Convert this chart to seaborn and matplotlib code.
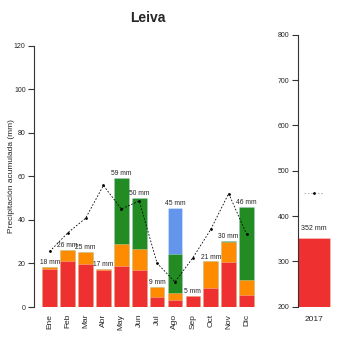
import numpy as np
import pandas as pd
import matplotlib
matplotlib.use("Agg")
import matplotlib.pyplot as plt
import seaborn as sns

months = ["Ene", "Feb", "Mar", "Abr", "May", "Jun", "Jul", "Ago", "Sep", "Oct", "Nov", "Dic"]
red = [17.5, 21.2, 19.9, 17.1, 18.9, 17.2, 4.5, 3.1, 5.1, 8.9, 20.7, 5.5]
orange = [0.9, 5.1, 5.4, 0.3, 9.9, 9.5, 4.9, 3.2, 0.0, 12.0, 9.3, 6.9]
green = [0.0, 0.0, 0.0, 0.0, 30.3, 23.3, 0.0, 18.0, 0.0, 0.0, 0.3, 33.6]
blue = [0.0, 0.0, 0.0, 0.0, 0.0, 0.0, 0.0, 21.0, 0.0, 0.0, 0.0, 0.0]
mean_line = [25.5, 34.0, 40.7, 55.8, 45.0, 48.7, 20.1, 11.5, 22.6, 35.6, 52.1, 33.5]

year_label = ["2017"]
year_total = [352]
year_mean = [450]

sns.set_style("white")
plt.rcParams['font.family'] = ['Liberation Sans', 'DejaVu Sans']

c_red = "#EE3030"
c_orange = "#FF8C00"
c_green = "#228B22"
c_blue = "#6495ED"

fig = plt.figure(figsize=(3.5, 3.5), dpi=100)
ax = fig.add_axes([34/350, 1-307/350, (258-34)/350, (307-45.6)/350])
ax2 = fig.add_axes([298/350, 1-306.7/350, (340-298)/350, (306.7-34.7)/350])

r = np.array(red); o = np.array(orange); g = np.array(green); b = np.array(blue)
layers = [(r + o + g + b, c_blue), (r + o + g, c_green), (r + o, c_orange), (r, c_red)]
for vals, col in layers:
    df = pd.DataFrame({"mes": months, "v": vals})
    sns.barplot(data=df, x="mes", y="v", color=col, saturation=1, width=0.82,
                ax=ax, edgecolor=(1, 1, 1, 0.5), linewidth=0.4)

totals = r + o + g + b
for i, t in enumerate(totals):
    ax.text(i, t + 0.4, f"{int(np.round(t))} mm", ha="center", va="bottom", fontsize=4.8, color="#222222")

dfl = pd.DataFrame({"x": np.arange(12), "y": mean_line})
sns.lineplot(data=dfl, x="x", y="y", ax=ax, color="black", linewidth=0.6,
             linestyle=(0, (2, 2)), marker="o", markersize=2, markeredgewidth=0)

ax.set_xlim(-0.88, 11.64)
ax.set_ylim(0, 120)
ax.set_yticks([0, 20, 40, 60, 80, 100, 120])
ax.set_xticks(range(12))
ax.set_xticklabels(months, rotation=90, fontsize=6)
ax.set_xlabel("")
ax.set_ylabel("Precipitación acumulada (mm)", fontsize=6)
ax.yaxis.set_label_coords(-0.085, 0.5)
for s in ["top", "right", "bottom"]:
    ax.spines[s].set_visible(False)
ax.spines["left"].set_linewidth(0.8)
ax.spines["left"].set_color("#333333")
ax.tick_params(axis="y", direction="out", length=4, width=0.8, labelsize=5, pad=2, left=True, color="#333333")
ax.tick_params(axis="x", length=0, pad=5)

dfy = pd.DataFrame({"a": year_label, "v": year_total})
sns.barplot(data=dfy, x="a", y="v", color=c_red, saturation=1, width=1.0, ax=ax2,
            edgecolor=(1, 1, 1, 0.5), linewidth=0.4)
ax2.text(0, year_total[0] + 12, f"{year_total[0]} mm", ha="center", va="bottom", fontsize=5, color="#222222")
dfm = pd.DataFrame({"x": [-0.3, 0.3], "y": [year_mean[0], year_mean[0]]})
sns.lineplot(data=dfm, x="x", y="y", ax=ax2, color="#aaaaaa", linewidth=0.6, linestyle=(0, (2, 2)))
ax2.plot([0], year_mean, "o", color="black", markersize=2, markeredgewidth=0)
ax2.set_xlim(-0.5, 0.8)
ax2.set_ylim(200, 800)
ax2.set_yticks([200, 300, 400, 500, 600, 700, 800])
ax2.set_xticks([0])
ax2.set_xticklabels(year_label, fontsize=6)
ax2.set_xlabel("")
ax2.set_ylabel("")
for s in ["top", "right", "bottom"]:
    ax2.spines[s].set_visible(False)
ax2.spines["left"].set_linewidth(0.8)
ax2.spines["left"].set_color("#333333")
ax2.tick_params(axis="y", direction="out", length=4, width=0.8, labelsize=5, pad=2, left=True, color="#333333")
ax2.tick_params(axis="x", length=0, pad=7)

fig.text(148/350, 1-18/350, "Leiva", ha="center", va="center", fontweight="bold", fontsize=10)

fig.savefig("out.png", dpi=100)
